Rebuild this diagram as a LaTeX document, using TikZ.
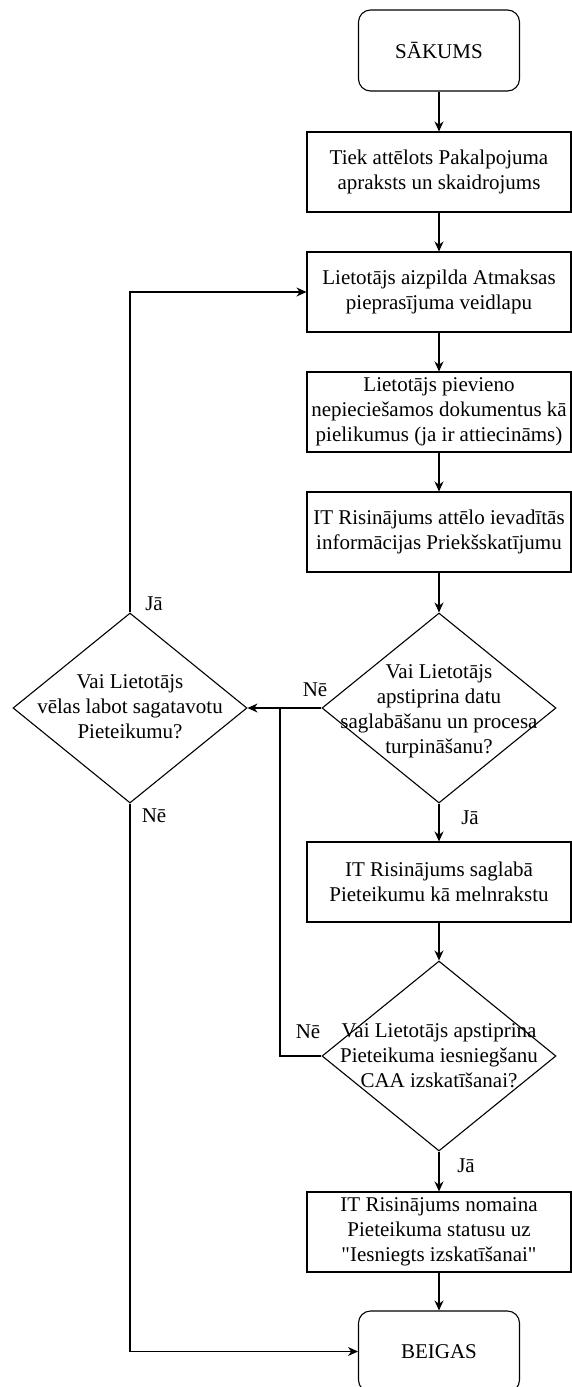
\documentclass[tikz,border=0pt]{standalone}
\usepackage{fontspec}
\setmainfont{Liberation Serif}[Ligatures=TeXOff]
\usetikzlibrary{arrows.meta,shapes.geometric}
\begin{document}
\begin{tikzpicture}[x=1pt,y=-1pt,line width=1.1pt,
  txt/.style={font=\fontsize{21}{25}\selectfont},
  box/.style={draw,rectangle,minimum width=264pt,minimum height=80pt,inner sep=0pt,align=center,txt},
  term/.style={box,rounded corners=12pt,minimum width=161pt,minimum height=81pt},
  dec/.style={draw,diamond,minimum width=234pt,minimum height=190pt,inner sep=0pt},
  dtext/.style={align=center,txt,inner sep=0pt},
  lbl/.style={txt,inner sep=0pt},
  arr/.style={-{Stealth[length=10pt,width=9pt]}}]
\useasboundingbox (0,0) rectangle (571,1387);
\node[term] (start) at (439,50.5) {SĀKUMS};
\node[box] (b1) at (439,172) {Tiek attēlots Pakalpojuma\\apraksts un skaidrojums};
\node[box] (b2) at (439,292) {Lietotājs aizpilda Atmaksas\\pieprasījuma veidlapu};
\node[box] (b3) at (439,412) {Lietotājs pievieno\\nepieciešamos dokumentus kā\\pielikumus (ja ir attiecināms)};
\node[box] (b4) at (439,532) {IT Risinājums attēlo ievadītās\\informācijas Priekšskatījumu};
\node[dec] (d1) at (439,708) {};
\node[dtext] (d1t) at (439,711) {Vai Lietotājs\\apstiprina datu\\saglabāšanu un procesa\\turpināšanu?};
\node[dec] (dl) at (130,708) {};
\node[dtext] (dlt) at (130,707) {Vai Lietotājs\\vēlas labot sagatavotu\\Pieteikumu?};
\node[box] (b5) at (439,882) {IT Risinājums saglabā\\Pieteikumu kā melnrakstu};
\node[dec] (d2) at (439,1056) {};
\node[dtext] (d2t) at (439,1056) {Vai Lietotājs apstiprina\\Pieteikuma iesniegšanu\\CAA izskatīšanai?};
\node[box] (b6) at (439,1232) {IT Risinājums nomaina\\Pieteikuma statusu uz\\\char34 Iesniegts izskatīšanai\char34};
\node[term] (end) at (439,1351.5) {BEIGAS};
\coordinate (j) at (280,708);
\draw[arr] (start) -- (b1);
\draw[arr] (b1) -- (b2);
\draw[arr] (b2) -- (b3);
\draw[arr] (b3) -- (b4);
\draw[arr] (b4) -- (d1);
\draw[arr] (d1) -- (b5);
\draw[arr] (b5) -- (d2);
\draw[arr] (d2) -- (b6);
\draw[arr] (b6) -- (end);
\draw[arr] (d1.west) -- (dl.east);
\draw (d2.west) -| (j);
\draw[arr] (dl.north) |- (b2.west);
\draw[arr] (dl.south) |- (end.west);
\node[lbl] (l1) at (154,604) {Jā};
\node[lbl] (l2) at (154,816) {Nē};
\node[lbl] (l3) at (315,690) {Nē};
\node[lbl] (l4) at (470,818) {Jā};
\node[lbl] (l5) at (308,1032) {Nē};
\node[lbl] (l6) at (466,1166) {Jā};
\end{tikzpicture}
\end{document}
